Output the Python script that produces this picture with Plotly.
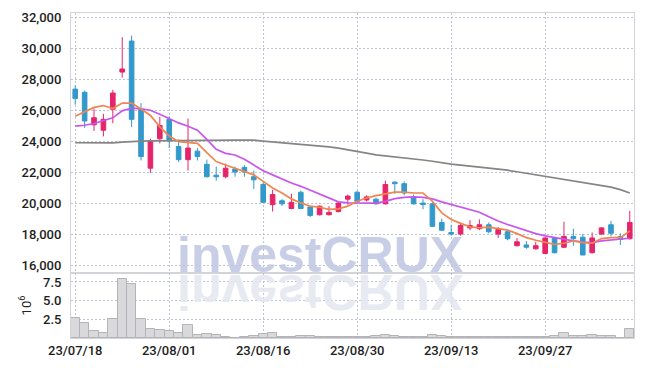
import plotly.graph_objects as go
from plotly.subplots import make_subplots

dates = [
    "2023-07-18", "2023-07-19", "2023-07-20", "2023-07-21", "2023-07-24", "2023-07-25",
    "2023-07-26", "2023-07-27", "2023-07-28", "2023-07-31",
    "2023-08-01", "2023-08-02", "2023-08-03", "2023-08-04", "2023-08-07", "2023-08-08",
    "2023-08-09", "2023-08-10", "2023-08-11", "2023-08-14", "2023-08-16", "2023-08-17",
    "2023-08-18", "2023-08-21", "2023-08-22", "2023-08-23", "2023-08-24", "2023-08-25",
    "2023-08-28", "2023-08-29", "2023-08-30", "2023-08-31",
    "2023-09-01", "2023-09-04", "2023-09-05", "2023-09-06", "2023-09-07", "2023-09-08",
    "2023-09-11", "2023-09-12", "2023-09-13", "2023-09-14", "2023-09-15", "2023-09-18",
    "2023-09-19", "2023-09-20", "2023-09-21", "2023-09-22", "2023-09-25", "2023-09-26",
    "2023-09-27",
    "2023-10-04", "2023-10-05", "2023-10-06", "2023-10-10", "2023-10-11", "2023-10-12",
    "2023-10-13", "2023-10-16", "2023-10-17",
]

open_ = [27350, 27150, 25050, 24700, 26050, 28450, 30450, 26050, 22250, 24150,
         25400, 23650, 22800, 23350, 22500, 21800, 21700, 22200, 22300, 21700,
         21200, 19900, 20150, 19650, 20700, 19750, 19250, 19250, 19450, 20250,
         20700, 20200, 20250, 19950, 21350, 21250, 20400, 20000, 19950, 18750,
         18100, 18000, 18400, 18350, 18600, 18000, 18150, 17250, 17300, 17050,
         16750, 17750, 17150, 17850, 17800, 16800, 18000, 18600, 17850, 17700]
high = [27600, 27250, 26100, 25750, 27300, 30700, 30800, 26450, 24150, 25550,
        25600, 24100, 25450, 23550, 22800, 22350, 22550, 22350, 22450, 22100,
        21400, 20850, 20250, 20600, 20800, 19750, 19850, 19800, 20050, 20550,
        20800, 20500, 20350, 21450, 21400, 21400, 20550, 20250, 20050, 19000,
        18600, 18750, 18900, 18950, 18750, 18450, 18250, 17750, 17550, 17500,
        17800, 17800, 18800, 18350, 18000, 18100, 18450, 18850, 18050, 19500]
low = [26350, 24850, 24650, 24300, 25150, 28100, 24900, 22750, 21950, 23850,
       23550, 22650, 22100, 22750, 21650, 21450, 21600, 21700, 21700, 20900,
       20000, 19450, 19800, 19600, 19600, 19100, 19200, 19200, 19400, 19900,
       20050, 20100, 19900, 19900, 20600, 20500, 19900, 19600, 18450, 18200,
       17900, 17900, 18250, 18250, 18050, 17750, 17600, 17200, 17050, 17000,
       16750, 16750, 17100, 17250, 16650, 16750, 17950, 17850, 17300, 17650]
close = [26750, 25300, 25500, 25400, 27100, 28650, 25400, 23000, 24000, 25000,
         24000, 22800, 23550, 23000, 21700, 21700, 22250, 22000, 22000, 21500,
         20050, 20550, 19950, 20050, 19650, 19200, 19800, 19400, 20000, 20450,
         20100, 20400, 19950, 21200, 21250, 20650, 19950, 19900, 18500, 18250,
         18000, 18550, 18550, 18600, 18150, 18300, 17700, 17500, 17150, 17250,
         17750, 16800, 17850, 17700, 16650, 17750, 18400, 18050, 17650, 18750]

ma_short = [25600, 25870, 26170, 26290, 26100, 26450, 26450, 26070, 25650, 24920,
            24330, 23960, 23910, 23850, 23250, 22680, 22460, 22250, 22040, 21820,
            21400, 20970, 20650, 20270, 20010, 19800, 19730, 19590, 19630, 19800,
            20120, 20330, 20480, 20590, 20710, 20710, 20650, 20650, 20120, 19370,
            18940, 18690, 18470, 18410, 18450, 18350, 18260, 18030, 17770, 17600,
            17490, 17340, 17410, 17560, 17450, 17410, 17710, 17770, 17770, 18200]
ma_mid = [24960, 25020, 25130, 25300, 25500, 25950, 26130, 26080, 25990, 25730,
          25450, 25170, 24960, 24700, 24110, 23470, 23210, 23100, 22830, 22460,
          22080, 21820, 21550, 21290, 21080, 20820, 20590, 20330, 20080, 20010,
          20000, 20000, 20000, 20110, 20290, 20370, 20400, 20370, 20270, 20080,
          19900, 19730, 19580, 19410, 19120, 18840, 18620, 18410, 18200, 18030,
          17880, 17770, 17660, 17560, 17490, 17450, 17560, 17620, 17660, 17730]
ma_long = [23890, 23880, 23870, 23870, 23880, 23930, 23980, 24000, 24010, 24020,
           24020, 24030, 24040, 24050, 24055, 24060, 24060, 24060, 24060, 24055,
           24000, 23950, 23900, 23850, 23790, 23730, 23680, 23620, 23540, 23420,
           23320, 23220, 23110, 23050, 22990, 22920, 22850, 22780, 22700, 22600,
           22510, 22450, 22390, 22330, 22270, 22200, 22120, 22020, 21920, 21820,
           21720, 21640, 21550, 21430, 21330, 21220, 21130, 21030, 20870, 20650]

volume_m = [2.73, 1.97, 0.9, 0.63, 2.5, 7.86, 7.2, 2.6, 1.16, 1.03,
            1.0, 0.63, 1.7, 0.36, 0.5, 0.36, 0.19, 0.06, 0.19, 0.32,
            0.5, 0.63, 0.19, 0.19, 0.32, 0.32, 0.19, 0.19, 0.19, 0.19,
            0.08, 0.19, 0.3, 0.45, 0.32, 0.19, 0.19, 0.19, 0.45, 0.32,
            0.19, 0.12, 0.1, 0.08, 0.08, 0.1, 0.15, 0.08, 0.08, 0.08,
            0.15, 0.25, 0.72, 0.25, 0.25, 0.36, 0.25, 0.25, 0.06, 1.26]

tick_dates = ["2023-07-18", "2023-08-01", "2023-08-16", "2023-08-30", "2023-09-13", "2023-09-27"]
tick_labels = ["23/07/18", "23/08/01", "23/08/16", "23/08/30", "23/09/13", "23/09/27"]
price_ticks = [16000, 18000, 20000, 22000, 24000, 26000, 28000, 30000, 32000]
vol_ticks = [2.5, 5.0, 7.5]

RED = "#e6246a"
BLUE = "#3399cc"
GRID = "#bfc3d6"
FRAME = "#d3d3da"
FONT = "Roboto, Liberation Sans, sans-serif"
TICKFONT = dict(family=FONT, size=13, color="#1e1e1e", weight=500)

W, H = 645, 368
ML, MR, MT, MB = 71, 10, 12, 29
VOL_FRAC = 0.2

fig = make_subplots(rows=2, cols=1, shared_xaxes=True, vertical_spacing=0,
                    row_heights=[1 - VOL_FRAC, VOL_FRAC])

fig.add_trace(go.Candlestick(
    x=dates, open=open_, high=high, low=low, close=close,
    increasing=dict(line=dict(color=RED, width=1), fillcolor=RED),
    decreasing=dict(line=dict(color=BLUE, width=1), fillcolor=BLUE),
    whiskerwidth=0, showlegend=False, hoverinfo="skip"), row=1, col=1)

fig.add_trace(go.Scatter(x=dates, y=ma_long, mode="lines",
                         line=dict(color="#858585", width=1.7), showlegend=False), row=1, col=1)
fig.add_trace(go.Scatter(x=dates, y=ma_mid, mode="lines",
                         line=dict(color="#c856ee", width=1.7), showlegend=False), row=1, col=1)
fig.add_trace(go.Scatter(x=dates, y=ma_short, mode="lines",
                         line=dict(color="#ef8550", width=1.7), showlegend=False), row=1, col=1)

fig.add_trace(go.Bar(x=dates, y=volume_m,
                     marker=dict(color="#d9d9db", line=dict(color="#b4b4b8", width=1)),
                     showlegend=False), row=2, col=1)

axis_common = dict(showline=True, mirror=True, linecolor=FRAME, linewidth=1,
                   showgrid=True, gridcolor=GRID, griddash="2px,2px", gridwidth=1,
                   zeroline=False, ticks="", tickfont=TICKFONT)

fig.update_xaxes(type="category", categoryorder="array", categoryarray=dates,
                 tickmode="array", tickvals=tick_dates, ticktext=tick_labels,
                 range=[-0.45, len(dates) - 0.55], rangeslider=dict(visible=False),
                 **axis_common)
fig.update_xaxes(showticklabels=False, row=1, col=1)

fig.update_yaxes(range=[15490, 32260], tickmode="array", tickvals=price_ticks,
                 tickformat=",", ticklabelstandoff=6, row=1, col=1, **axis_common)
fig.update_yaxes(range=[0, 8.7], tickmode="array", tickvals=vol_ticks,
                 tickformat=".1f", ticklabelstandoff=6,
                 title=dict(text="10<sup>6</sup>", font=dict(family=FONT, size=13, color="#222222"),
                            standoff=8),
                 row=2, col=1, **axis_common)

sep_y = MT + (H - MT - MB) * (1 - VOL_FRAC)

wm_x = (320 - ML) / (W - ML - MR)
WM_H = 46
for col in ["rgba(190,198,224,0.85)", "rgba(228,231,240,0.9)"]:
    fig.add_annotation(text="<b>investCRUX</b>", xref="paper", yref="paper", x=wm_x, y=VOL_FRAC,
                       xanchor="center", yanchor="bottom", showarrow=False,
                       height=WM_H, valign="top", borderpad=0, borderwidth=0,
                       font=dict(family="Liberation Sans, Arial, sans-serif", size=50, color=col),
                       yshift=0)

fig.update_layout(width=W, height=H, margin=dict(l=ML, r=MR, t=MT, b=MB),
                  plot_bgcolor="white", paper_bgcolor="white", bargap=0,
                  showlegend=False, font=dict(family=FONT), hovermode=False)

post = """
document.body.style.margin = '0';
document.body.style.padding = '0';
var gd = document.getElementById('{plot_id}');
function flipReflection(){
  var gs = gd.querySelectorAll('g.annotation');
  if (gs.length < 2) return;
  var refl = gs[1];
  var axisY = %f;
  refl.setAttribute('transform', 'translate(0,' + (2*axisY) + ') scale(1,-1)');
}
flipReflection();
""" % (sep_y)

fig.write_html("out.html", post_script=post, config={"displayModeBar": False})
